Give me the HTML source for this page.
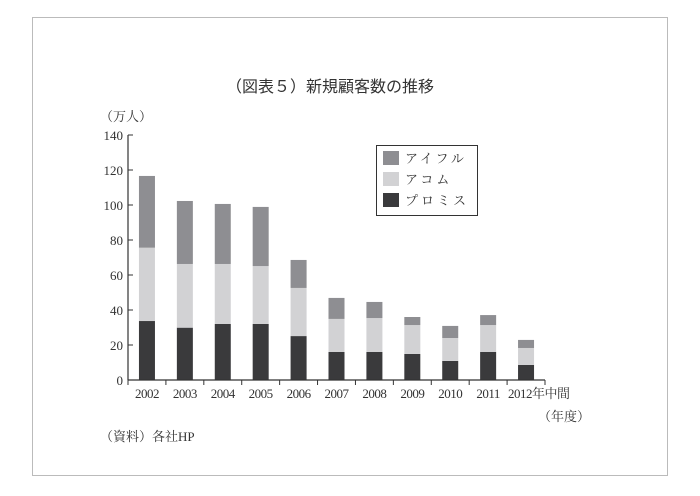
<!DOCTYPE html>
<html><head><meta charset="utf-8"><style>
body{margin:0;background:#fff;}
svg text{font-family:"Liberation Serif","Noto Serif CJK SC",serif;fill:#333;}
</style></head><body>
<svg width="700" height="491" viewBox="0 0 700 491" xmlns="http://www.w3.org/2000/svg">
<rect x="32.5" y="17.5" width="635" height="458" fill="#fff" stroke="#bbb"/>
<text x="330" y="92" text-anchor="middle" font-size="16" style="font-family:'Liberation Sans','Noto Sans CJK JP',sans-serif">（図表５）新規顧客数の推移</text>
<text x="100" y="121" font-size="13">（万人）</text>
<g id="yaxis"></g>
<g id="bars"></g>
<g id="xaxis"></g>
<text x="538" y="421" font-size="13">（年度）</text>
<text x="100" y="441" font-size="13">（資料）各社HP</text>
<g>
<rect x="376.5" y="145.5" width="101" height="70" fill="#fff" stroke="#333"/>
<rect x="383" y="151" width="16" height="14" fill="#8e8e92"/>
<text x="405" y="163" font-size="13" letter-spacing="3">アイフル</text>
<rect x="383" y="172" width="16" height="14" fill="#d2d2d4"/>
<text x="405" y="184" font-size="13" letter-spacing="3">アコム</text>
<rect x="383" y="193" width="16" height="14" fill="#3a3a3c"/>
<text x="405" y="205" font-size="13" letter-spacing="3">プロミス</text>
</g>
</svg>
<script>
const categories=["2002","2003","2004","2005","2006","2007","2008","2009","2010","2011","2012年中間"];
const promise=[33.7,29.9,32,32,25.1,16,16,14.9,10.9,16,8.6];
const acom=[41.9,36.4,34.3,33.1,27.5,18.9,19.4,16.5,13.1,15.4,9.7];
const aiful=[41,36,34.3,33.8,16,12,9.2,4.6,6.9,5.7,4.6];
const yTicks=[0,20,40,60,80,100,120,140];
const NS="http://www.w3.org/2000/svg";
const x0=128,x1=545,y0=380,yTop=135,yMax=140;
const slot=(x1-x0)/categories.length,bw=16;
const y=v=>y0-(v/yMax)*(y0-yTop);
function mk(t,a,p){const e=document.createElementNS(NS,t);for(const k in a)e.setAttribute(k,a[k]);p.appendChild(e);return e;}
const ya=document.getElementById('yaxis'),xa=document.getElementById('xaxis'),bg=document.getElementById('bars');
const axl=mk('line',{x1:x0,y1:y0,x2:x0,y2:yTop,stroke:'#333','stroke-width':1.2},ya);


yTicks.forEach(v=>{
 const tk=mk('line',{x1:x0,y1:y(v),x2:x0+5,y2:y(v),stroke:'#333'},ya);
 
 
 const t=mk('text',{x:x0-5,y:y(v)+5,'text-anchor':'end','font-size':13},ya);
 t.textContent=v;
 
 
});
const xl=mk('line',{x1:x0,y1:y0,x2:x1,y2:y0,stroke:'#333','stroke-width':1.2},xa);


for(let i=0;i<=categories.length;i++){
 const tk=mk('line',{x1:x0+i*slot,y1:y0,x2:x0+i*slot,y2:y0+5,stroke:'#333'},xa);
 
 
}
categories.forEach((c,i)=>{
 const cx=x0+slot*(i+0.5);
 const t=mk('text',{x:i===10?cx-18:cx,y:y0+18,'text-anchor':i===10?'start':'middle','font-size':13,'letter-spacing':'-0.5'},xa);
 t.textContent=c;
 
 
 const series=[[promise,'#3a3a3c','promise'],[acom,'#d2d2d4','acom'],[aiful,'#8e8e92','aiful']];
 let base=0;
 series.forEach(([arr,col,nm])=>{
  const v=arr[i];
  const r=mk('rect',{x:cx-bw/2,y:y(base+v),width:bw,height:y(base)-y(base+v),fill:col},bg);
  
  
  base+=v;
 });
});
</script>
</body></html>
